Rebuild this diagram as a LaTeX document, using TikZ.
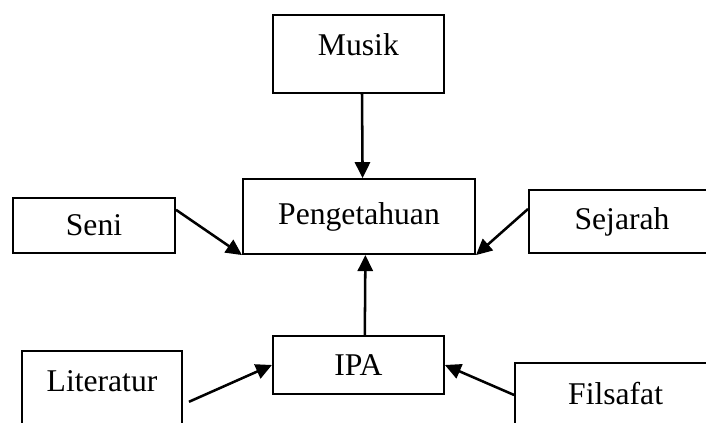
\documentclass[tikz,border=0pt]{standalone}
\usepackage{fontspec}
\setmainfont{Liberation Serif}
\usetikzlibrary{arrows.meta, positioning}

\begin{document}
\begin{tikzpicture}[
    every node/.style={font=\fontsize{22.5}{26}\selectfont},
    box/.style={draw, line width=1.4pt, inner sep=0pt, fill=white},
    arr/.style={-{Triangle[length=0.4cm, width=0.38cm]}, line width=1.8pt},
]
    \useasboundingbox (0,0) rectangle (17.65,10.575);
    \clip (0,0) rectangle (17.65,10.575);

    % Center and boxes around it
    \node[box, minimum width=5.8cm, minimum height=1.875cm, text depth=0.17cm] (peng) at (8.975,5.16) {Pengetahuan};
    \node[box, minimum width=4.275cm, minimum height=1.95cm, text depth=0.45cm] (musik) at (8.96,9.23) {Musik};
    \node[box, minimum width=4.05cm, minimum height=1.375cm] (seni) at (2.35,4.94) {Seni};
    \node[box, minimum width=4.65cm, minimum height=1.575cm] (sejarah) at (15.55,5.04) {Sejarah};
    \node[box, minimum width=4.275cm, minimum height=1.45cm] (ipa) at (8.96,1.45) {IPA};
    \node[box, minimum width=4.0cm, minimum height=2.225cm, text depth=0.725cm] (lit) at (2.55,0.69) {Literatur};
    \node[box, minimum width=5.025cm, minimum height=2.225cm, text depth=0.725cm] (fils) at (15.39,0.39) {Filsafat};

    % Arrows
    \draw[arr] ([xshift=0.09cm]musik.south) -- ([xshift=0.09cm]peng.north);
    \draw[arr] ([yshift=0.39cm]seni.east) -- (peng.south west);
    \draw[arr] ([yshift=0.31cm]sejarah.west) -- (peng.south east);
    \draw[arr] ([xshift=0.16cm]ipa.north) -- ([xshift=0.16cm]peng.south);
    \draw[arr] ([xshift=0.15cm, yshift=-0.16cm]lit.east) -- (ipa.west);
    \draw[arr] ([yshift=0.31cm]fils.west) -- (ipa.east);
\end{tikzpicture}
\end{document}
